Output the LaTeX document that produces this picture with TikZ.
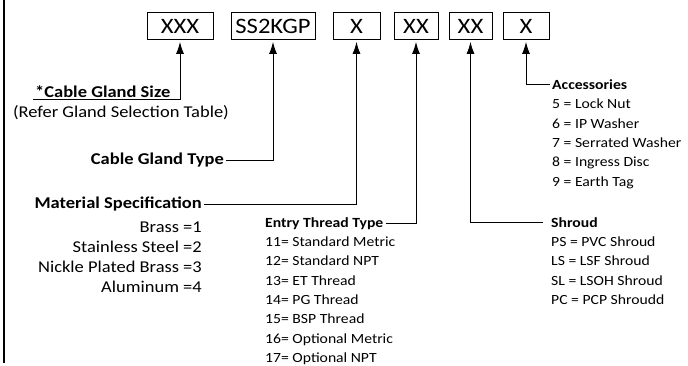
\documentclass[tikz,border=0pt]{standalone}
\usepackage{fontspec}
\setmainfont{Carlito}[FakeStretch=1.12]
\usepackage{tikz}
\usetikzlibrary{arrows.meta,calc,positioning}
\newcommand{\boxfont}{\fontsize{22}{24}\selectfont}
\newcommand{\lblfont}{\fontsize{16.5}{20}\selectfont}
\newcommand{\lstfont}{\fontsize{14}{19}\selectfont}
\tikzset{%
	codebox/.style  = {draw, rectangle, line width=0.8pt, minimum height=27pt, inner sep=0pt, font=\boxfont},
	biglbl/.style   = {inner sep=2pt, font=\lblfont},
	smalllbl/.style = {inner sep=2pt, font=\lstfont},
	arrow/.style    = {line width=0.9pt, -{Latex[length=12pt,width=8pt]}, shorten >=2pt},
}
\begin{document}
\begin{tikzpicture}[x=1pt,y=-1pt]
		\useasboundingbox (0,0) rectangle (688,365);
		\draw[line width=1.6pt] (4,0) -- (4,363);
		
		\foreach \n/\t/\x/\w in {size/XXX/180/66, type/SS2KGP/273/84, mat/X/356.5/47, entry/XX/416/44, shroud/XX/470.5/43, acc/X/526/46} \node[codebox, minimum width=\w pt] (b\n) at (\x,26) {\t};
		
		% gland size
		\node[biglbl, anchor=base west] (lsize) at (33,97) {\bfseries *Cable Gland Size};
		\node[biglbl] (refer) at (121,113) {(Refer Gland Selection Table)};
		\draw[arrow] (lsize.south west) -| (bsize.south);
		
		% gland type
		\node[biglbl, anchor=base east] (ltype) at (226,164.5) {\bfseries Cable Gland Type};
		\draw[arrow] (ltype.east) -| (btype.south);
		
		% material
		\node[biglbl, anchor=base east] (lmat) at (204,208.5) {\bfseries Material Specification};
		\draw[arrow] (lmat.east) -| (bmat.south);
		\foreach \t [count=\i, evaluate=\i as \yy using 212+20*\i] in {Brass =1, Stainless Steel =2, Nickle Plated Brass =3, Aluminum =4} \node[biglbl, anchor=base east] (m\i) at (204,\yy) {\t};
		
		% entry thread
		\node[smalllbl, anchor=base west] (lentry) at (263,227.5) {\bfseries Entry Thread Type};
		\draw[arrow] (lentry.east) -| (bentry.south);
		\foreach \t [count=\i, evaluate=\i as \yy using 227.2+19.33*\i] in {11= Standard Metric, 12= Standard NPT, 13= ET Thread, 14= PG Thread, 15= BSP Thread, 16= Optional Metric, 17= Optional NPT} \node[smalllbl, anchor=base west] (e\i) at (263,\yy) {\t};
		
		% shroud
		\node[smalllbl, anchor=base west] (lshroud) at (549,227) {\bfseries Shroud};
		\draw[arrow, shorten <=6pt] (lshroud.west) -| (bshroud.south);
		\foreach \t [count=\i, evaluate=\i as \yy using 227.2+19.33*\i] in {PS = PVC Shroud, LS = LSF Shroud, SL = LSOH Shroud, PC = PCP Shroudd} \node[smalllbl, anchor=base west] (s\i) at (549,\yy) {\t};
		
		% accessories
		\node[smalllbl, anchor=base west] (lacc) at (550,89.5) {\bfseries Accessories};
		\draw[arrow] (lacc.west) -| (bacc.south);
		\foreach \t [count=\i, evaluate=\i as \yy using 89.5+19.33*\i] in {5 = Lock Nut, 6 = IP Washer, 7 = Serrated Washer, 8 = Ingress Disc, 9 = Earth Tag} \node[smalllbl, anchor=base west] (a\i) at (550,\yy) {\t};
	\end{tikzpicture}
\end{document}
